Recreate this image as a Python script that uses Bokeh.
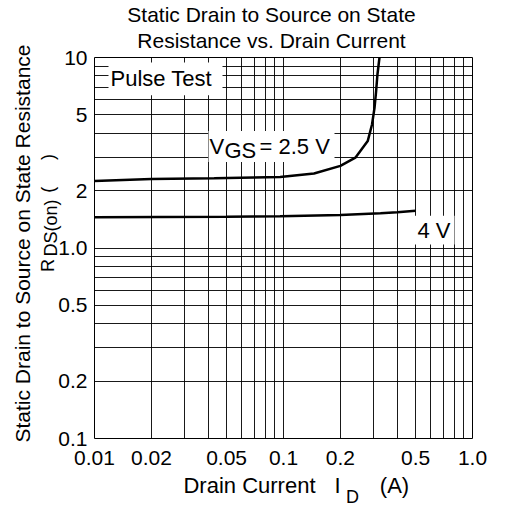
import numpy as np
from bokeh.plotting import figure
from bokeh.models import FixedTicker, Label, BoxAnnotation, LogAxis
from bokeh.embed import file_html
from bokeh.resources import INLINE

# ---------------- data ----------------
title_text = "Static Drain to Source on State\nResistance vs. Drain Current"
x_title_parts = ["Drain Current", "I", "(A)"]
x_title_sub = ["D"]
y_title_main = ["Static Drain to Source on State Resistance"]
y_title_parts = ["R", "(", ")"]
y_title_sub = ["DS(on)"]

x_ticks = [0.01, 0.02, 0.05, 0.1, 0.2, 0.5, 1.0]
x_tick_labels = ["0.01", "0.02", "0.05", "0.1", "0.2", "0.5", "1.0"]
y_ticks = [0.1, 0.2, 0.5, 1.0, 2, 5, 10]
y_tick_labels = ["0.1", "0.2", "0.5", "1.0", "2", "5", "10"]
x_grid = [0.01, 0.02, 0.03, 0.04, 0.05, 0.06, 0.07, 0.08, 0.09,
          0.1, 0.2, 0.3, 0.4, 0.5, 0.6, 0.7, 0.8, 0.9, 1.0]
y_grid = [0.1, 0.2, 0.3, 0.4, 0.5, 0.6, 0.7, 0.8, 0.9,
          1, 2, 3, 4, 5, 6, 7, 8, 9, 10]

id_4v = [0.01, 0.05, 0.096, 0.2, 0.326, 0.4, 0.5]
rds_4v = [1.45, 1.46, 1.466, 1.49, 1.52, 1.54, 1.57]

id_25v = [0.01, 0.02, 0.043, 0.096, 0.145, 0.2, 0.24, 0.279, 0.294, 0.303, 0.309, 0.314, 0.322]
rds_25v = [2.25, 2.30, 2.32, 2.36, 2.46, 2.70, 2.98, 3.64, 4.45, 5.43, 6.64, 8.12, 10.0]

# ---------------- layout ----------------
FONT = "Liberation Sans"
FS = "21px"
FL_ = "22px"
W = H = 509
FL, FT, FR, FB = 94, 56, 472, 439   # frame edges in picture pixels

p = figure(width=W, height=H, x_axis_type="log", y_axis_type="log",
           x_range=(0.01, 1.0), y_range=(0.1, 10),
           output_backend="svg", toolbar_location=None,
           min_border_left=FL, min_border_right=W - FR,
           min_border_top=FT, min_border_bottom=H - FB)
p.background_fill_color = "white"
p.border_fill_color = "white"
p.outline_line_color = "black"
p.outline_line_width = 1
p.outline_line_alpha = 1


def dx(X):
    return float(f"{10 ** (-2 + (X - FL) / (FR - FL) * 2):.8g}")


def dy(Y):
    return float(f"{10 ** (-1 + (FB - Y) / (FB - FT) * 2):.8g}")


def style_axis(ax, size=FS, standoff=0):
    ax.axis_line_color = None
    ax.major_tick_line_color = None
    ax.minor_tick_line_color = None
    ax.major_tick_out = 0
    ax.major_tick_in = 0
    ax.major_label_text_font = FONT
    ax.major_label_text_font_size = size
    ax.major_label_text_color = "black"
    ax.major_label_standoff = standoff


for ax, ticks, labels in ((p.xaxis[0], x_ticks, x_tick_labels), (p.yaxis[0], y_ticks, y_tick_labels)):
    ax.ticker = FixedTicker(ticks=ticks)
    ax.major_label_overrides = {t: l for t, l in zip(ticks, labels)}
    style_axis(ax)
p.xaxis.major_label_standoff = 12
p.yaxis.major_label_standoff = 7


def text_axis(side, centers, texts, size, standoff, orient="horizontal", lh=1.2):
    conv = dx if side in ("above", "below") else dy
    ticks = [conv(c) for c in centers]
    ax = LogAxis(ticker=FixedTicker(ticks=ticks),
                 major_label_overrides={t: s for t, s in zip(ticks, texts)},
                 major_label_orientation=orient)
    style_axis(ax, size, standoff)
    ax.major_label_text_line_height = lh
    p.add_layout(ax, side)
    return ax


# title (two lines)
text_axis("above", [271], [title_text], FS, 6, lh=1.1)
# x axis title pieces
text_axis("below", [249, 337, 394], x_title_parts, FL_, 5)
text_axis("below", [352], x_title_sub, "18px", -14)
# y axis title pieces
text_axis("left", [227.5], y_title_sub, "18px", -6, "parallel")
text_axis("left", [265, 189, 156], y_title_parts, "18px", -20, "parallel")
text_axis("left", [243], y_title_main, FS, 1, "parallel")

p.xgrid.ticker = FixedTicker(ticks=x_grid)
p.ygrid.ticker = FixedTicker(ticks=y_grid)
for g in (p.xgrid[0], p.ygrid[0]):
    g.grid_line_color = "black"
    g.grid_line_alpha = 0.9
    g.grid_line_width = 1

# white boxes behind in-plot labels
for (l, r, t, b) in ((108, 222, 61, 94), (208, 334, 130, 161), (413, 454, 215, 244)):
    p.add_layout(BoxAnnotation(left=dx(l), right=dx(r), top=dy(t), bottom=dy(b),
                               fill_color="white", fill_alpha=1, line_color=None,
                               level="underlay"))

# curves
p.line(id_4v, rds_4v, line_color="black", line_width=2.5)
p.line(id_25v, rds_25v, line_color="black", line_width=2.5)


def lab(X, Y, text, size=FL_):
    p.add_layout(Label(x=dx(X), y=dy(Y), text=text, text_font=FONT,
                       text_font_size=size, text_color="black",
                       text_align="left", text_baseline="alphabetic",
                       level="overlay"))


lab(110, 77, "Pulse Test")
lab(209, 145, "V")
lab(224, 149, "GS")
lab(259, 145, "= 2.5 V")
lab(417, 230, "4 V")

open("out.html", "w").write(file_html(p, INLINE))
